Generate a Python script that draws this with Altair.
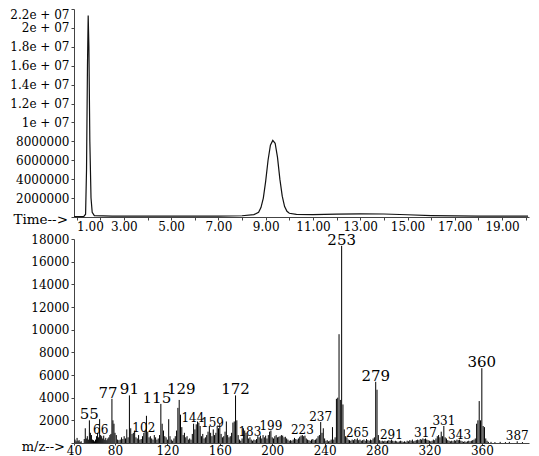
import altair as alt
import pandas as pd

FONT = "DejaVu Serif"
INK = "#111111"
AXIS = "#444444"

# ---------------- chromatogram (TIC) ----------------
tic_time = [0.89, 1.30, 1.38, 1.42, 1.46, 1.49, 1.52, 1.56, 1.61, 1.66, 1.75, 2.5, 5.0, 7.0,
            8.0, 8.5, 8.7, 8.8, 8.9, 9.0, 9.1, 9.2, 9.3, 9.4, 9.5, 9.6, 9.7, 9.8, 9.9, 10.0,
            10.3, 11.0, 12.0, 13.0, 14.0, 15.0, 16.0, 17.0, 18.0, 20.1]
tic_abundance = [50000, 50000, 300000, 5000000, 16000000, 21300000, 18000000, 8000000, 2000000,
                 500000, 150000, 100000, 100000, 100000, 130000, 250000, 500000, 1000000,
                 2000000, 3800000, 6000000, 7600000, 8100000, 7800000, 6300000, 4000000,
                 2200000, 1100000, 600000, 400000, 280000, 260000, 300000, 340000, 320000,
                 240000, 150000, 110000, 100000, 100000]

tic_tick_values = [0, 2000000, 4000000, 6000000, 8000000, 10000000, 12000000, 14000000,
                   16000000, 18000000, 20000000, 22000000]
tic_tick_labels = ["", "2000000", "4000000", "6000000", "8000000", "1e + 07", "1.2e + 07",
                   "1.4e + 07", "1.6e + 07", "1.8e + 07", "2e + 07", "2.2e + 07"]
time_tick_values = list(range(1, 21))
time_tick_labels = ["1.00", "", "3.00", "", "5.00", "", "7.00", "", "9.00", "", "11.00", "",
                    "13.00", "", "15.00", "", "17.00", "", "19.00", ""]

# ---------------- mass spectrum ----------------
ms_mz = [41, 42, 43, 44, 45, 46, 47, 50, 51, 52, 53, 54, 55, 56, 57, 58, 59, 60, 61, 62, 63, 64,
         65, 66, 67, 68, 69, 70, 71, 72, 73, 74, 75, 76, 77, 78, 79, 80, 81, 82, 83, 84, 85, 86,
         87, 88, 89, 90, 91, 92, 93, 94, 95, 96, 97, 98, 99, 100, 101, 102, 103, 104, 105, 106,
         107, 108, 109, 110, 111, 112, 113, 114, 115, 116, 117, 118, 119, 120, 121, 122, 123,
         124, 125, 126, 127, 128, 129, 130, 131, 132, 133, 134, 135, 136, 137, 138, 139, 140,
         141, 142, 143, 144, 145, 146, 147, 148, 149, 150, 151, 152, 153, 154, 155, 156, 157,
         158, 159, 160, 161, 162, 163, 164, 165, 166, 167, 168, 169, 170, 171, 172, 173, 174,
         175, 176, 177, 178, 179, 180, 181, 182, 183, 184, 185, 186, 187, 188, 189, 190, 191,
         192, 193, 194, 195, 196, 197, 198, 199, 200, 201, 202, 203, 204, 205, 206, 207, 208,
         209, 210, 211, 212, 213, 214, 215, 216, 217, 218, 219, 220, 221, 222, 223, 224, 225,
         226, 227, 228, 229, 230, 231, 232, 233, 234, 235, 236, 237, 238, 239, 240, 241, 242,
         243, 244, 245, 246, 247, 248, 249, 250, 251, 252, 253, 254, 255, 256, 257, 258, 259,
         260, 261, 262, 263, 264, 265, 266, 267, 268, 269, 270, 271, 272, 273, 274, 275, 276,
         277, 278, 279, 280, 281, 282, 283, 284, 285, 286, 287, 288, 289, 290, 291, 292, 293,
         294, 295, 296, 297, 298, 299, 300, 301, 302, 303, 304, 305, 306, 307, 308, 309, 310,
         311, 312, 313, 314, 315, 316, 317, 318, 319, 320, 321, 322, 323, 324, 325, 326, 327,
         328, 329, 330, 331, 332, 333, 334, 335, 336, 337, 338, 339, 340, 341, 342, 343, 344,
         345, 346, 347, 348, 349, 350, 351, 352, 353, 354, 355, 356, 357, 358, 359, 360, 361,
         362, 363, 364, 365, 367, 370, 374, 378, 381, 387, 391]
ms_abundance = [300, 150, 450, 200, 250, 100, 150, 350, 1300, 400, 600, 300, 2000, 900, 700, 300,
                250, 150, 300, 600, 900, 500, 2100, 700, 600, 400, 650, 300, 450, 250, 400, 500,
                700, 800, 3900, 2000, 1700, 900, 700, 300, 250, 300, 500, 350, 600, 400, 1200,
                500, 4200, 1300, 800, 900, 1100, 500, 400, 700, 300, 350, 600, 900, 1100, 2400,
                1000, 500, 600, 400, 300, 700, 500, 300, 400, 700, 3450, 1700, 1100, 600, 500,
                300, 2100, 600, 300, 200, 400, 600, 1100, 3100, 3800, 2500, 1400, 700, 900, 500,
                600, 300, 400, 300, 800, 1700, 1200, 1650, 1900, 1800, 1500, 600, 800, 400, 500,
                700, 1000, 1500, 900, 600, 1200, 700, 900, 1500, 1300, 1700, 800, 500, 600, 1000,
                1900, 700, 500, 600, 900, 1800, 1900, 4200, 2000, 700, 300, 200, 400, 1300, 1100,
                900, 700, 400, 500, 300, 200, 300, 250, 350, 600, 500, 650, 400, 700, 500, 650,
                400, 700, 1000, 1100, 500, 400, 600, 700, 500, 550, 600, 700, 650, 500, 550, 400,
                300, 200, 250, 200, 300, 450, 350, 300, 400, 550, 650, 700, 600, 650, 400, 300,
                250, 200, 300, 350, 250, 300, 400, 600, 700, 1850, 900, 1300, 400, 200, 250, 150,
                200, 300, 1400, 300, 500, 3900, 4000, 9600, 3800, 17400, 3400, 1200, 600, 500,
                300, 250, 200, 300, 250, 350, 300, 400, 250, 300, 200, 250, 300, 200, 350, 250,
                200, 300, 250, 400, 500, 5400, 4700, 700, 250, 150, 200, 150, 200, 150, 200, 250,
                200, 300, 200, 150, 200, 150, 100, 150, 200, 150, 100, 150, 100, 200, 150, 250,
                200, 300, 150, 200, 250, 300, 250, 350, 300, 400, 350, 400, 300, 250, 200, 150,
                200, 300, 250, 400, 600, 700, 500, 1000, 600, 1500, 500, 400, 250, 200, 150, 200,
                150, 250, 200, 300, 250, 300, 200, 150, 100, 150, 100, 150, 200, 150, 200, 250,
                300, 400, 1700, 2000, 3700, 2000, 6600, 1500, 1400, 400, 200, 100, 100, 80, 100,
                80, 100, 150, 80]

ms_tick_values = [0, 2000, 4000, 6000, 8000, 10000, 12000, 14000, 16000, 18000]
ms_tick_labels = ["", "2000", "4000", "6000", "8000", "10000", "12000", "14000", "16000", "18000"]
mz_tick_values = [40, 80, 120, 160, 200, 240, 280, 320, 360]
mz_tick_labels = ["40", "80", "120", "160", "200", "240", "280", "320", "360"]

# peak annotations (m/z values that carry a label)
major_label_mz = [55, 91, 172, 253, 279, 360]
major_label_left_mz = [77, 115]
major_label_high_mz = [129]
minor_label_mz = [66, 102, 183, 199, 223, 237, 265, 291, 317, 331, 343, 387]
minor_label_left_mz = [144, 159]

axis_titles = ["Time-->", "m/z-->"]


def label_expr(values, labels):
    parts = [f"datum.value == {v} ? '{t}'" for v, t in zip(values, labels)]
    return " : ".join(parts) + " : ''"


W = 455
TOP_H = 208
BOT_H = 204

common_axis = dict(grid=False, title=None, domainColor=AXIS, tickColor=AXIS, labelColor="#000",
                   labelFont=FONT, labelOverlap=False)

# ---------- top panel ----------
tic_df = pd.DataFrame({"time": tic_time, "abundance": tic_abundance})
tic_line = alt.Chart(tic_df).mark_line(color=INK, strokeWidth=1.2).encode(
    x=alt.X("time:Q",
            scale=alt.Scale(domain=[0.89, 20.14], nice=False, zero=False),
            axis=alt.Axis(values=time_tick_values,
                          labelExpr=label_expr(time_tick_values, time_tick_labels),
                          labelFlush=3, tickSize=3, labelPadding=1, labelFontSize=12,
                          **common_axis)),
    y=alt.Y("abundance:Q",
            scale=alt.Scale(domain=[0, 22000000], nice=False),
            axis=alt.Axis(values=tic_tick_values,
                          labelExpr=label_expr(tic_tick_values, tic_tick_labels),
                          labelFlush=True, tickSize=3, labelPadding=2, labelFontSize=12,
                          minExtent=66, maxExtent=66, **common_axis)),
)
time_title = alt.Chart(pd.DataFrame({"t": [axis_titles[0]]})).mark_text(
    align="right", baseline="middle", font=FONT, fontSize=13.5, color="#000"
).encode(text="t:N", x=alt.value(-6), y=alt.value(TOP_H + 3))

top = alt.layer(tic_line, time_title).properties(width=W, height=TOP_H)

# ---------- bottom panel ----------
ms_df = pd.DataFrame({"mz": ms_mz, "abundance": ms_abundance})
lookup = dict(zip(ms_mz, ms_abundance))


def label_df(mzs):
    return pd.DataFrame({"mz": mzs,
                         "abundance": [lookup[m] for m in mzs],
                         "label": [str(m) for m in mzs]})


mz_scale = alt.Scale(domain=[40, 80, 396], range=[0, 41, W], nice=False, zero=False)
ab_scale = alt.Scale(domain=[0, 18000], nice=False)

x_ms = alt.X("mz:Q", scale=mz_scale,
             axis=alt.Axis(values=mz_tick_values,
                           labelExpr=label_expr(mz_tick_values, mz_tick_labels),
                           labelFlush=False, tickSize=2, labelPadding=0, labelFontSize=12,
                           **common_axis))
y_ms = alt.Y("abundance:Q", scale=ab_scale,
             axis=alt.Axis(values=ms_tick_values,
                           labelExpr=label_expr(ms_tick_values, ms_tick_labels),
                           labelFlush=False, tickSize=3, labelPadding=2, labelFontSize=12,
                           minExtent=66, maxExtent=66, **common_axis))

sticks = alt.Chart(ms_df).mark_rule(color="#000000", strokeWidth=1.0).encode(
    x=x_ms, y=y_ms, y2=alt.datum(0),
)


def peak_text(mzs, size, dx=0, dy=-1):
    return alt.Chart(label_df(mzs)).mark_text(
        baseline="alphabetic", align="center", dx=dx, dy=dy, font=FONT, fontSize=size,
        color="#000"
    ).encode(x=x_ms, y=y_ms, text="label:N")


major_text = peak_text(major_label_mz, 15)
major_left = peak_text(major_label_left_mz, 15, dx=-4)
major_high = peak_text(major_label_high_mz, 15, dx=2, dy=-6)
minor_text = peak_text(minor_label_mz, 12)
minor_left = peak_text(minor_label_left_mz, 12, dx=-6)

mz_title = alt.Chart(pd.DataFrame({"t": [axis_titles[1]]})).mark_text(
    align="right", baseline="middle", font=FONT, fontSize=13, color="#000"
).encode(text="t:N", x=alt.value(-9), y=alt.value(BOT_H + 4))

bottom = alt.layer(sticks, major_text, major_left, major_high, minor_text, minor_left,
                   mz_title).properties(width=W, height=BOT_H)

chart = alt.vconcat(top, bottom, spacing=0).properties(
    padding=0, background="white"
).configure_view(stroke=None)

chart.save("out.html", embed_options={"renderer": "svg", "actions": False})
